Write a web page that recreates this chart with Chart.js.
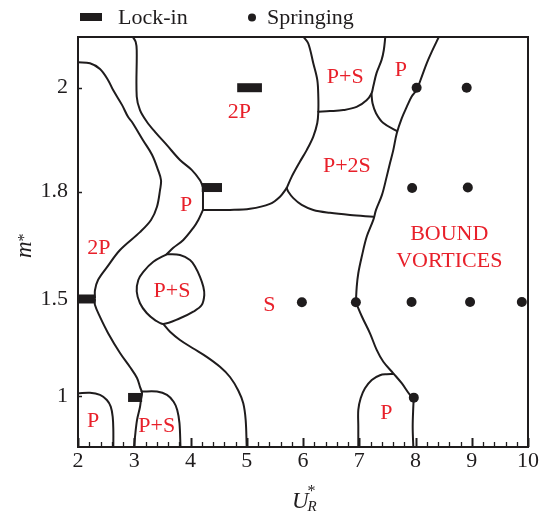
<!DOCTYPE html>
<html>
<head>
<meta charset="utf-8">
<script src="https://cdn.jsdelivr.net/npm/chart.js@4/dist/chart.umd.min.js"></script>
<style>
  html, body { margin: 0; padding: 0; background: #fff; }
  canvas { display: block; }
</style>
</head>
<body>
<canvas id="c" width="544" height="514"></canvas>
<script>
// ---- axis ticks ----
const uTicks = [2, 3, 4, 5, 6, 7, 8, 9, 10];
const massTicks = [1, 1.5, 1.8, 2];

// ---- springing cases (U_R*, m*) ----
const springU = [8.02, 8.91, 7.94, 8.93, 5.98, 6.94, 7.93, 8.97, 9.89, 7.97];
const springM = [2.0, 2.0, 1.807, 1.808, 1.483, 1.483, 1.485, 1.485, 1.485, 0.994];

// ---- lock-in ranges (U_R* start/end at a given m*) ----
const lockStart = [2.0, 2.89, 4.2, 4.83];
const lockEnd = [2.3, 3.14, 4.56, 5.27];
const lockMass = [1.5, 0.995, 1.808, 2.0];

// ---- regime boundaries, each a list of [U_R*, m*] ----
const outer2P = [[2.0,2.049],[2.213,2.047],[2.391,2.036],[2.533,2.015],[2.622,1.996],[2.782,1.967],[2.889,1.944],[2.96,1.934],[3.156,1.899],[3.316,1.871],[3.422,1.842],[3.476,1.822],[3.458,1.803],[3.404,1.758],[3.298,1.721],[3.102,1.687],[2.747,1.637],[2.516,1.589],[2.356,1.553],[2.302,1.525],[2.302,1.503]];
const lower2P = [[2.302,1.497],[2.302,1.469],[2.391,1.408],[2.533,1.326],[2.747,1.223],[2.924,1.151],[3.049,1.095],[3.102,1.049],[3.138,1.018],[3.12,0.985],[3.102,0.946],[3.049,0.879],[3.013,0.792],[2.996,0.741]];
const cornerP = [[2.0,1.016],[2.213,1.019],[2.391,1.008],[2.513,0.982],[2.582,0.948],[2.617,0.896],[2.628,0.828],[2.628,0.741]];
const lowPS = [[3.13,1.025],[3.404,1.025],[3.582,1.008],[3.7,0.973],[3.764,0.931],[3.804,0.863],[3.822,0.741]];
const corridorTop = [[2.975,2.0975],[3.026,2.088],[3.044,2.072],[3.044,1.983],[3.102,1.957],[3.221,1.935],[3.369,1.915],[3.577,1.89],[3.813,1.861],[4.021,1.842],[4.169,1.822],[4.222,1.809]];
const corridorDrop = [[4.222,1.81],[4.222,1.749]];
const corridorMid = [[4.222,1.749],[4.139,1.721],[4.05,1.699],[3.872,1.665],[3.694,1.643],[3.577,1.625]];
const islandPS = [[3.577,1.625],[3.813,1.623],[3.991,1.609],[4.08,1.591],[4.169,1.562],[4.228,1.534],[4.245,1.511],[4.199,1.469],[4.05,1.435],[3.813,1.401],[3.516,1.372],[3.369,1.392],[3.221,1.428],[3.102,1.478],[3.044,1.521],[3.072,1.553],[3.161,1.576],[3.339,1.604],[3.577,1.625]];
const corridorLow = [[3.516,1.372],[3.636,1.332],[3.813,1.29],[4.05,1.246],[4.288,1.203],[4.524,1.152],[4.702,1.1],[4.849,1.031],[4.938,0.965],[4.981,0.879],[4.999,0.741]];
const shelf = [[4.222,1.749],[4.702,1.749],[5.058,1.752],[5.413,1.766],[5.591,1.786],[5.71,1.807]];
const right2P = [[6.01,2.0975],[6.094,2.085],[6.183,2.047],[6.254,2.015],[6.272,1.983],[6.272,1.954],[6.254,1.932],[6.183,1.906],[6.066,1.88],[5.947,1.858],[5.8,1.829],[5.71,1.807]];
const base2S = [[5.71,1.807],[5.739,1.8],[5.828,1.782],[5.977,1.763],[6.183,1.749],[6.48,1.741],[6.836,1.735],[7.25,1.73]];
const topPS = [[6.272,1.954],[6.48,1.955],[6.717,1.957],[6.953,1.963],[7.13,1.976],[7.218,1.989],[7.248,2.002],[7.307,2.028],[7.396,2.053],[7.436,2.072],[7.463,2.0975]];
const topP = [[7.218,1.988],[7.236,1.97],[7.298,1.951],[7.428,1.932],[7.665,1.917]];
const boundUpper = [[8.414,2.0975],[8.288,2.069],[8.199,2.047],[8.11,2.021],[8.021,1.996],[7.932,1.983],[7.844,1.963],[7.755,1.941],[7.666,1.912],[7.605,1.88],[7.547,1.855],[7.488,1.829],[7.404,1.791],[7.298,1.749],[7.25,1.721],[7.132,1.674],[7.044,1.618],[6.983,1.572],[6.955,1.534],[6.94,1.483]];
const boundMid = [[6.94,1.483],[7.049,1.409],[7.191,1.324],[7.31,1.239],[7.428,1.178],[7.605,1.119],[7.755,1.068],[7.902,1.008],[7.97,0.994]];
const boundLow = [[7.97,0.994],[7.961,0.948],[7.95,0.846],[7.961,0.741]];
const lowP = [[7.605,1.115],[7.488,1.114],[7.369,1.109],[7.222,1.085],[7.102,1.042],[7.025,0.991],[6.983,0.931],[6.983,0.846],[6.983,0.741]];

const boundaries = [outer2P, lower2P, cornerP, lowPS, corridorTop, corridorDrop, corridorMid, islandPS,
  corridorLow, shelf, right2P, base2S, topPS, topP, boundUpper, boundMid, boundLow, lowP];

// ---- regime names and where they sit ----
const regimeText = ['2P', 'P', '2P', 'P+S', 'P', 'P+2S', 'BOUND\nVORTICES', 'P+S', 'S', 'P', 'P+S', 'P'];
const regimeU = [2.37, 3.92, 4.87, 6.75, 7.74, 6.78, 8.6, 3.67, 5.4, 2.27, 3.4, 7.48];
const regimeM = [1.645, 1.766, 1.955, 2.024, 2.036, 1.851, 1.647, 1.525, 1.474, 0.879, 0.854, 0.921];

// ---- piecewise-linear mass-ratio axis (tested m* values are spread evenly) ----
const massStops = [0.741, 1, 1.5, 1.8, 2, 2.0975];
const massStopPos = [0, 0.1232, 0.361, 0.6227, 0.8763, 1];

function interp(v, xs, ys) {
  let i = 1;
  while (i < xs.length - 1 && v > xs[i]) i++;
  const t = (v - xs[i - 1]) / (xs[i] - xs[i - 1]);
  return ys[i - 1] + t * (ys[i] - ys[i - 1]);
}

class MassRatioScale extends Chart.LinearScale {
  getPixelForValue(value) {
    if (value === null || value === undefined || isNaN(value)) return NaN;
    return this.getPixelForDecimal(interp(value, massStops, massStopPos));
  }
  getValueForPixel(pixel) {
    return interp(this.getDecimalForPixel(pixel), massStopPos, massStops);
  }
}
MassRatioScale.id = 'massratio';
MassRatioScale.defaults = Chart.LinearScale.defaults;
Chart.register(MassRatioScale);

const INK = '#1f1c1d';
const RED = '#e8202a';
const SERIF = '"Liberation Serif", "Times New Roman", serif';

const toPts = arr => arr.map(([u, m]) => ({ x: u, y: m }));

const datasets = [];
datasets.push({
  label: 'Springing',
  data: springU.map((u, i) => ({ x: u, y: springM[i] })),
  pointRadius: 5, pointBackgroundColor: INK, pointBorderWidth: 0, showLine: false
});
lockStart.forEach((s, i) => {
  datasets.push({
    label: 'Lock-in',
    data: [{ x: s, y: lockMass[i] }, { x: lockEnd[i], y: lockMass[i] }],
    showLine: true, borderColor: INK, borderWidth: 9, borderCapStyle: 'butt',
    pointRadius: 0, tension: 0
  });
});
boundaries.forEach(b => {
  datasets.push({
    data: toPts(b), showLine: true, borderColor: INK, borderWidth: 2,
    borderCapStyle: 'round', borderJoinStyle: 'round', pointRadius: 0, tension: 0.35
  });
});

const decor = {
  id: 'decor',
  afterDatasetsDraw(chart) {
    const { ctx, chartArea: a, scales: { x, y } } = chart;
    ctx.save();

    // regime names
    ctx.fillStyle = RED;
    ctx.font = '22px ' + SERIF;
    ctx.textAlign = 'center';
    ctx.textBaseline = 'alphabetic';
    regimeText.forEach((t, i) => {
      const lines = t.split('\n');
      const px = x.getPixelForValue(regimeU[i]);
      const py = y.getPixelForValue(regimeM[i]);
      lines.forEach((ln, j) => {
        const ly = py + (j - (lines.length - 1) / 2) * 27;
        ctx.fillText(ln, px, ly + 7.3);
      });
    });

    // frame
    ctx.strokeStyle = INK;
    ctx.lineWidth = 2;
    ctx.strokeRect(a.left, a.top, a.right - a.left, a.bottom - a.top);

    // inward ticks on the U axis: majors every 1, minors every 0.2
    const steps = Math.round((x.max - x.min) / 0.2);
    for (let k = 0; k <= steps; k++) {
      const px = Math.round(x.getPixelForValue(x.min + k * 0.2)) + 0.5;
      const major = k % 5 === 0;
      ctx.lineWidth = major ? 2 : 1.3;
      ctx.beginPath();
      ctx.moveTo(px, a.bottom);
      ctx.lineTo(px, a.bottom - (major ? 9 : 5));
      ctx.stroke();
    }
    // inward ticks on the m* axis
    ctx.lineWidth = 1.5;
    massTicks.forEach(v => {
      const py = Math.round(y.getPixelForValue(v)) + 0.5;
      ctx.beginPath();
      ctx.moveTo(a.left, py);
      ctx.lineTo(a.left + 4, py);
      ctx.stroke();
    });

    // axis titles
    ctx.fillStyle = INK;
    ctx.textAlign = 'left';
    // U_R*
    ctx.font = 'italic 23px ' + SERIF;
    const uw = ctx.measureText('U').width;
    const ux = 292;
    ctx.fillText('U', ux, 508);
    ctx.font = '16px ' + SERIF;
    ctx.fillText('*', ux + uw - 1, 496);
    ctx.font = 'italic 15px ' + SERIF;
    ctx.fillText('R', ux + uw - 1, 511);
    // m*
    ctx.save();
    ctx.translate(31, 258);
    ctx.rotate(-Math.PI / 2);
    ctx.font = 'italic 23px ' + SERIF;
    const mw = ctx.measureText('m').width;
    ctx.fillText('m', 0, 0);
    ctx.font = '16px ' + SERIF;
    ctx.fillText('*', mw, -2);
    ctx.restore();

    // legend
    ctx.fillStyle = INK;
    ctx.fillRect(80, 13, 22, 8);
    ctx.beginPath();
    ctx.arc(252, 17.5, 4, 0, Math.PI * 2);
    ctx.fill();
    ctx.font = '22px ' + SERIF;
    ctx.fillText(chart.data.datasets[1].label, 118, 23.5);
    ctx.fillText(chart.data.datasets[0].label, 267, 23.5);

    ctx.restore();
  }
};

new Chart(document.getElementById('c'), {
  type: 'scatter',
  data: { datasets },
  options: {
    responsive: false,
    animation: false,
    events: [],
    layout: { padding: { top: 37, right: 16, left: 0, bottom: 0 } },
    plugins: { legend: { display: false }, tooltip: { enabled: false } },
    scales: {
      x: {
        type: 'linear', min: 2, max: 10,
        grid: { display: false, drawTicks: false },
        border: { display: false },
        ticks: { font: { family: SERIF, size: 22 }, color: INK, padding: 1, maxRotation: 0, autoSkip: false,
                 callback: v => String(v) },
        afterBuildTicks: s => { s.ticks = uTicks.map(v => ({ value: v })); },
        afterFit: s => { s.height = 67; }
      },
      y: {
        type: 'massratio', min: massStops[0], max: massStops[massStops.length - 1],
        grid: { display: false, drawTicks: false },
        border: { display: false },
        ticks: { font: { family: SERIF, size: 22 }, color: INK, padding: 10, autoSkip: false,
                 callback: v => String(v) },
        afterBuildTicks: s => { s.ticks = massTicks.map(v => ({ value: v })); },
        afterFit: s => { s.width = 78; }
      }
    }
  },
  plugins: [decor]
});
</script>
</body>
</html>
